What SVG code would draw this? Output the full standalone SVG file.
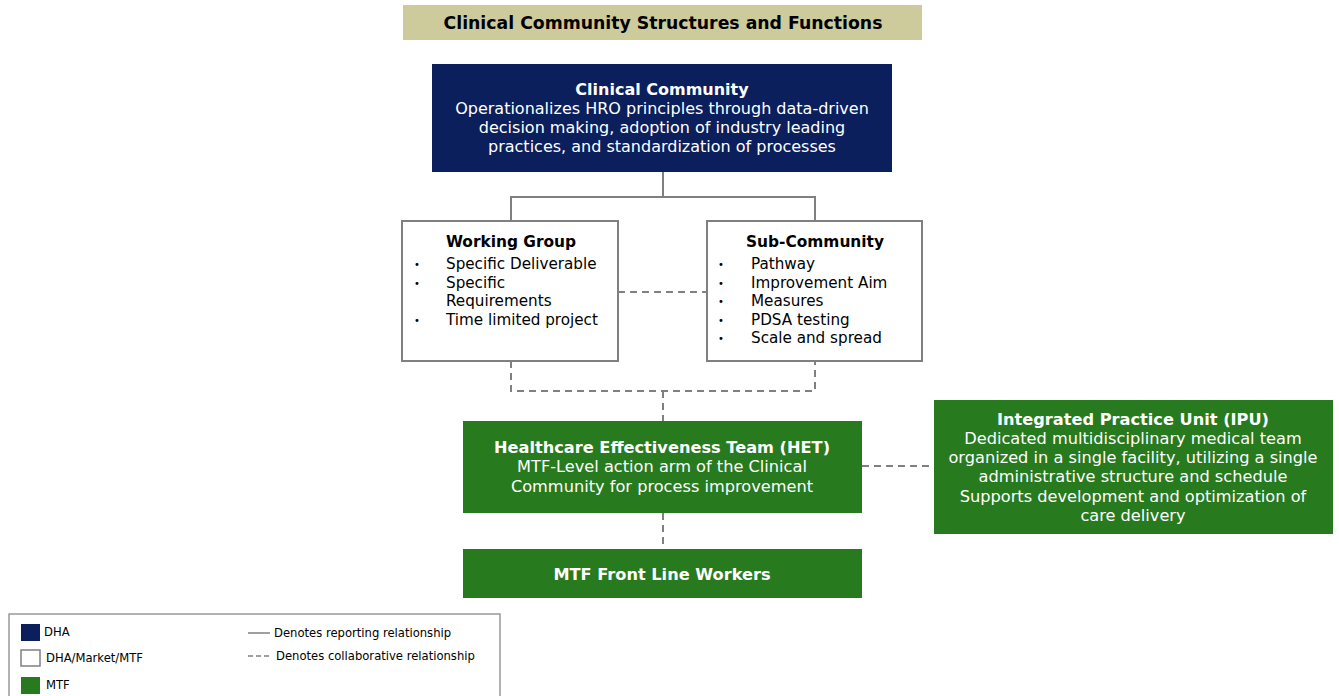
<svg xmlns="http://www.w3.org/2000/svg" width="1339" height="696" viewBox="0 0 1339 696">
<style>
.v{font-family:"DejaVu Sans",Verdana,sans-serif;}
.b{font-weight:bold;}
.w{fill:#ffffff;}
.k{fill:#000000;}
.c{text-anchor:middle;}
.bu{font-size:10px;}
.solid{stroke:#808080;stroke-width:2;fill:none;}
.dash{stroke:#808080;stroke-width:2;fill:none;stroke-dasharray:7,5;}
.box{fill:#ffffff;stroke:#808080;stroke-width:2;}
.navy{fill:#0a1f5c;}
.green{fill:#287a1e;}
</style>
<rect width="1339" height="696" fill="#ffffff"/>
<g id="title">
<rect x="403" y="5" width="519" height="35" fill="#cdcb9b"/>
<text class="v b k c" x="663" y="29" font-size="17.3">Clinical Community Structures and Functions</text>
</g>
<g id="connectors">
<polyline class="solid" points="663,172 663,197"/>
<polyline class="solid" points="511,221 511,197 815,197 815,221"/>
<line class="dash" x1="618" y1="292" x2="707" y2="292"/>
<polyline class="dash" points="511,361 511,391 815,391 815,361"/>
<line class="dash" x1="663" y1="391" x2="663" y2="421"/>
<line class="dash" x1="862" y1="466" x2="934" y2="466"/>
<line class="dash" x1="663" y1="513" x2="663" y2="549"/>
</g>
<g id="clinical-community">
<rect class="navy" x="432" y="64" width="460" height="108"/>
<text class="v w c" font-size="16"><tspan class="b" x="662" y="95">Clinical Community</tspan><tspan x="662" y="114">Operationalizes HRO principles through data-driven</tspan><tspan x="662" y="133">decision making, adoption of industry leading</tspan><tspan x="662" y="152">practices, and standardization of processes</tspan></text>
</g>
<g id="working-group">
<rect class="box" x="402" y="221" width="216" height="140"/>
<text class="v b k c" x="511" y="247" font-size="15.4">Working Group</text>
<g class="v k" font-size="15.2">
<text class="bu" x="414" y="268">•</text><text x="446" y="269">Specific Deliverable</text>
<text class="bu" x="414" y="287">•</text><text x="446" y="288">Specific</text>
<text x="446" y="306">Requirements</text>
<text class="bu" x="414" y="324">•</text><text x="446" y="325">Time limited project</text>
</g>
</g>
<g id="sub-community">
<rect class="box" x="707" y="221" width="215" height="140"/>
<text class="v b k c" x="815" y="247" font-size="15.4">Sub-Community</text>
<g class="v k" font-size="15.2">
<text class="bu" x="718" y="268">•</text><text x="751" y="269">Pathway</text>
<text class="bu" x="718" y="287">•</text><text x="751" y="288">Improvement Aim</text>
<text class="bu" x="718" y="305">•</text><text x="751" y="306">Measures</text>
<text class="bu" x="718" y="324">•</text><text x="751" y="325">PDSA testing</text>
<text class="bu" x="718" y="342">•</text><text x="751" y="343">Scale and spread</text>
</g>
</g>
<g id="het">
<rect class="green" x="463" y="421" width="399" height="92"/>
<text class="v w c" font-size="16.2"><tspan class="b" x="662" y="453">Healthcare Effectiveness Team (HET)</tspan><tspan x="662" y="472">MTF-Level action arm of the Clinical</tspan><tspan x="662" y="492">Community for process improvement</tspan></text>
</g>
<g id="ipu">
<rect class="green" x="934" y="400" width="399" height="134"/>
<text class="v w c" font-size="16.2"><tspan class="b" x="1133" y="425">Integrated Practice Unit (IPU)</tspan><tspan x="1133" y="444">Dedicated multidisciplinary medical team</tspan><tspan x="1133" y="463">organized in a single facility, utilizing a single</tspan><tspan x="1133" y="482">administrative structure and schedule</tspan><tspan x="1133" y="502">Supports development and optimization of</tspan><tspan x="1133" y="521">care delivery</tspan></text>
</g>
<g id="mtf-front-line">
<rect class="green" x="463" y="549" width="399" height="49"/>
<text class="v b w c" x="662" y="580" font-size="16.2">MTF Front Line Workers</text>
</g>
<g id="legend">
<rect x="9" y="614" width="491" height="90" fill="#ffffff" stroke="#999999" stroke-width="1.5"/>
<rect class="navy" x="21" y="624" width="19" height="17"/>
<text class="v k" x="44" y="636" font-size="11.6">DHA</text>
<rect x="21" y="650" width="19" height="16" fill="#ffffff" stroke="#808080" stroke-width="1.5"/>
<text class="v k" x="46" y="662" font-size="11.6">DHA/Market/MTF</text>
<rect class="green" x="21" y="677" width="19" height="17"/>
<text class="v k" x="46" y="689" font-size="11.6">MTF</text>
<line x1="248" y1="633" x2="270" y2="633" stroke="#808080" stroke-width="1.5"/>
<text class="v k" x="274" y="637" font-size="11.6">Denotes reporting relationship</text>
<line x1="248" y1="656" x2="270" y2="656" stroke="#808080" stroke-width="1.5" stroke-dasharray="5,3"/>
<text class="v k" x="276" y="660" font-size="11.6">Denotes collaborative relationship</text>
</g>
</svg>
